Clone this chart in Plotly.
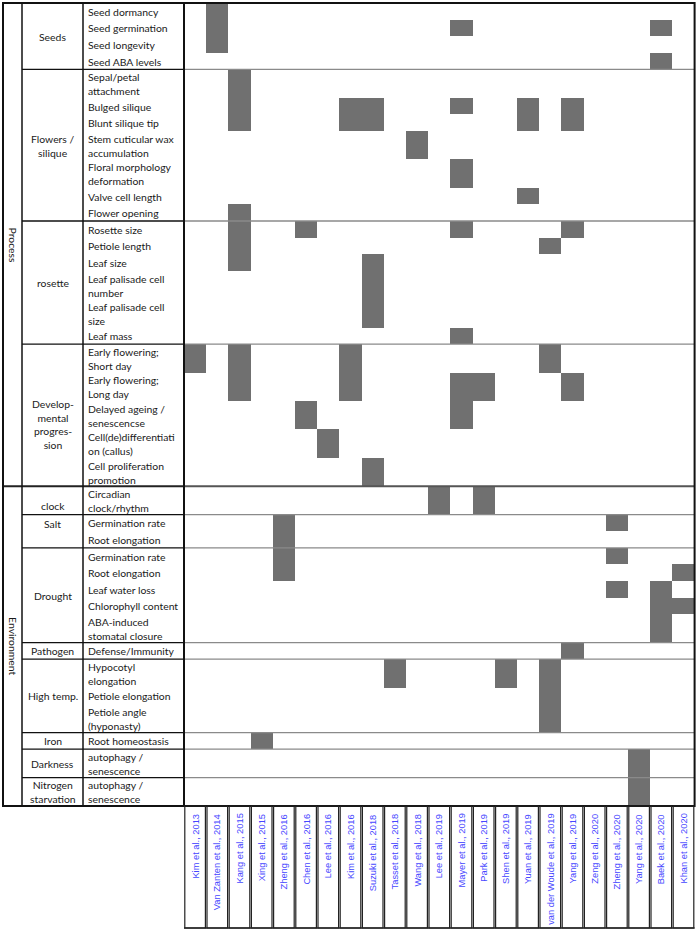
import plotly.graph_objects as go

# ---------------- data ----------------
refs = ["Kim et al., 2013", "Van Zanten et al., 2014", "Kang et al., 2015", "Xing et al., 2015",
        "Zheng et al., 2016", "Chen et al., 2016", "Lee et al., 2016", "Kim et al., 2016",
        "Suzuki et al., 2018", "Tasset et al., 2018", "Wang et al., 2018", "Lee et al., 2019",
        "Mayer et al., 2019", "Park et al., 2019", "Shen et al., 2019", "Yuan et al., 2019",
        "van der Woude et al., 2019", "Yang et al., 2019", "Zeng et al., 2020", "Zheng et al., 2020",
        "Yang et al., 2020", "Baek et al., 2020", "Khan et al., 2020"]

sections = ["Process", "Environment"]

group_names = ["Seeds", "Flowers /<br>silique", "rosette", "Develop-<br>mental<br>progres-<br>sion",
               "clock", "Salt", "Drought", "Pathogen", "High temp.", "Iron", "Darkness",
               "Nitrogen<br>starvation"]
group_section = [0, 0, 0, 0, 1, 1, 1, 1, 1, 1, 1, 1]
group_valign = ["middle", "middle", "middle", "middle", "bottom", "top", "middle", "middle",
                "middle", "middle", "middle", "middle"]

item_labels = [
    "Seed dormancy", "Seed germination", "Seed longevity", "Seed ABA levels",
    "Sepal/petal<br>attachment", "Bulged silique", "Blunt silique tip",
    "Stem cuticular wax<br>accumulation", "Floral morphology<br>deformation",
    "Valve cell length", "Flower opening",
    "Rosette size", "Petiole length", "Leaf size", "Leaf palisade cell<br>number",
    "Leaf palisade cell<br>size", "Leaf mass",
    "Early flowering;<br>Short day", "Early flowering;<br>Long day",
    "Delayed ageing /<br>senescencse", "Cell(de)differentiati<br>on (callus)",
    "Cell proliferation<br>promotion",
    "Circadian<br>clock/rhythm",
    "Germination rate", "Root elongation",
    "Germination rate", "Root elongation", "Leaf water loss", "Chlorophyll content",
    "ABA-induced<br>stomatal closure",
    "Defense/Immunity",
    "Hypocotyl<br>elongation", "Petiole elongation", "Petiole angle<br>(hyponasty)",
    "Root homeostasis",
    "autophagy /<br>senescence",
    "autophagy /<br>senescence",
]
item_group = [0, 0, 0, 0,
              1, 1, 1, 1, 1, 1, 1,
              2, 2, 2, 2, 2, 2,
              3, 3, 3, 3, 3,
              4,
              5, 5,
              6, 6, 6, 6, 6,
              7,
              8, 8, 8,
              9,
              10,
              11]
# references reporting a phenotype for each item (indices into refs)
item_hits = [
    [1], [1, 12, 21], [1], [21],
    [2], [2, 7, 8, 12, 15, 17], [2, 7, 8, 15, 17], [10], [12], [15], [2],
    [2, 5, 12, 17], [2, 16], [2, 8], [8], [8], [12],
    [0, 2, 7, 16], [2, 7, 12, 13, 17], [5, 12], [6], [8],
    [11, 13],
    [4, 19], [4],
    [4, 19], [4, 22], [19, 21], [21, 22], [21],
    [17],
    [9, 14, 16], [16], [16],
    [3],
    [20],
    [20],
]

# ---------------- layout constants (pixel coordinates) ----------------
W, H = 699, 930
TOP = 3.0
X_OUT, X_SEC, X_GRP, X_GRID = 3.0, 22.0, 83.0, 184.0
COL_W = 22.2
H1, H2 = 16.6, 28.4
LAB_BOT = 928.0
DEV_SHIFT = 9  # the developmental group label sits a little below centre

n_cols = len(refs)
X_RIGHT = X_GRID + COL_W * n_cols
x_edges = [X_GRID + COL_W * i for i in range(n_cols + 1)]

row_h = [H2 if "<br>" in s else H1 for s in item_labels]
y_edges = [TOP]
for h in row_h:
    y_edges.append(y_edges[-1] + h)
Y_BOT = y_edges[-1]

z = []
for hits in item_hits:
    z.append([1 if j in hits else None for j in range(n_cols)])

fig = go.Figure()
fig.add_trace(go.Heatmap(
    x=x_edges, y=y_edges, z=z, zmin=0, zmax=1,
    colorscale=[[0, "#707070"], [1, "#707070"]], showscale=False,
    hoverinfo="skip", xgap=0, ygap=0,
))

shapes = []
ann = []
TXT = "#1a1a1a"
LFONT = dict(family="Lato, Open Sans, sans-serif", size=10.4, color=TXT)

# group extents
n_groups = len(group_names)
g_start = {}
g_end = {}
for i, g in enumerate(item_group):
    g_start.setdefault(g, y_edges[i])
    g_end[g] = y_edges[i + 1]

s_start = {}
s_end = {}
for g in range(n_groups):
    s = group_section[g]
    s_start.setdefault(s, g_start[g])
    s_end[s] = g_end[g]

# item labels
for i, lab in enumerate(item_labels):
    yc = (y_edges[i] + y_edges[i + 1]) / 2 + 0.5
    ann.append(dict(x=X_GRP + 3, y=yc, text=lab, showarrow=False, xanchor="left",
                    yanchor="middle", align="left", font=LFONT))

# group labels and separators
for g in range(n_groups):
    y0, y1 = g_start[g], g_end[g]
    va = group_valign[g]
    if va == "bottom":
        yy, ya = y1 - 1, "bottom"
    elif va == "top":
        yy, ya = y0 + 1, "top"
    else:
        yy, ya = (y0 + y1) / 2 + 0.5, "middle"
    if g == 3:
        yy += DEV_SHIFT
    ann.append(dict(x=(X_SEC + X_GRP) / 2, y=yy, text=group_names[g], showarrow=False,
                    xanchor="center", yanchor=ya, align="center", font=LFONT))
    if g > 0 and group_section[g] == group_section[g - 1]:
        shapes.append(dict(type="line", x0=X_SEC, x1=X_GRID, y0=y0, y1=y0,
                           line=dict(color="#111111", width=1.3)))
        shapes.append(dict(type="line", x0=X_GRID, x1=X_RIGHT, y0=y0, y1=y0,
                           line=dict(color="#8a8a8a", width=1.3)))

# section labels and separator
for s, name in enumerate(sections):
    ann.append(dict(x=(X_OUT + X_SEC) / 2 + 0.5, y=(s_start[s] + s_end[s]) / 2, text=name,
                    showarrow=False, textangle=90, xanchor="center", yanchor="middle",
                    font=LFONT))
    if s > 0:
        shapes.append(dict(type="line", x0=X_OUT, x1=X_GRID, y0=s_start[s], y1=s_start[s],
                           line=dict(color="#222222", width=2)))
        shapes.append(dict(type="line", x0=X_GRID, x1=X_RIGHT, y0=s_start[s], y1=s_start[s],
                           line=dict(color="#555555", width=2)))

# vertical table lines
for xv, wdt in [(X_SEC, 1.5), (X_GRP, 1.5), (X_GRID, 2)]:
    shapes.append(dict(type="line", x0=xv, x1=xv, y0=TOP, y1=Y_BOT,
                       line=dict(color="#111111", width=wdt)))
# outer border
shapes.append(dict(type="rect", x0=X_OUT, x1=X_RIGHT, y0=TOP, y1=Y_BOT,
                   line=dict(color="#111111", width=2)))

# reference label cells
for j, r in enumerate(refs):
    xl, xr = x_edges[j], x_edges[j + 1]
    shapes.append(dict(type="rect", x0=xl + 0.8, x1=xr - 0.8, y0=Y_BOT, y1=LAB_BOT,
                       line=dict(color="#222222", width=1.2)))
    ann.append(dict(x=(xl + xr) / 2, y=Y_BOT + 6, text=r, showarrow=False, textangle=-90,
                    xanchor="center", yanchor="top",
                    font=dict(family="Liberation Sans, Arial, sans-serif", size=9.3,
                              color="#4646ff")))
shapes.append(dict(type="line", x0=X_GRID, x1=X_RIGHT, y0=LAB_BOT, y1=LAB_BOT,
                   line=dict(color="#222222", width=1.5)))

fig.update_layout(
    width=W, height=H, margin=dict(l=0, r=0, t=0, b=0),
    paper_bgcolor="white", plot_bgcolor="white",
    xaxis=dict(range=[0, W], visible=False, fixedrange=True),
    yaxis=dict(range=[H, 0], visible=False, fixedrange=True),
    shapes=shapes, annotations=ann, showlegend=False,
)

fig.write_html("out.html",
               config={"displayModeBar": False, "staticPlot": True},
               post_script="document.body.style.margin='0px';"
                           "document.body.style.overflow='hidden';")
